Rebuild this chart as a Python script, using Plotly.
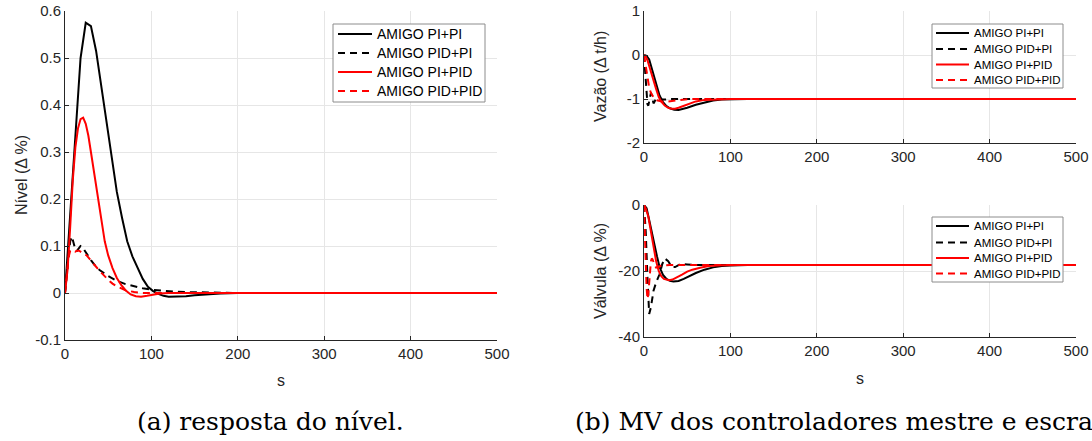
import plotly.graph_objects as go

W, H = 1092, 441

series_names = ["AMIGO PI+PI", "AMIGO PID+PI", "AMIGO PI+PID", "AMIGO PID+PID"]

# ---------------- (a) Nível ----------------
niv_t_pipi = [0, 6, 12, 18, 24, 30, 36, 42, 48, 54, 60, 66, 72, 78, 84, 90, 96, 102, 108, 114, 120, 130, 140, 150, 165, 180, 200, 500]
niv_v_pipi = [0, 0.17, 0.35, 0.50, 0.575, 0.568, 0.515, 0.44, 0.36, 0.28, 0.215, 0.16, 0.11, 0.078, 0.052, 0.03, 0.013, 0.004, -0.002, -0.006, -0.008, -0.008, -0.007, -0.005, -0.003, -0.001, 0, 0]

niv_t_pidpi = [0, 2, 4, 6, 8, 10, 12, 14, 16, 18, 20, 22, 25, 30, 35, 40, 50, 60, 70, 80, 90, 100, 110, 125, 140, 160, 180, 200, 500]
niv_v_pidpi = [0, 0.04, 0.08, 0.11, 0.12, 0.105, 0.092, 0.09, 0.095, 0.1, 0.098, 0.092, 0.083, 0.07, 0.058, 0.049, 0.036, 0.026, 0.019, 0.014, 0.01, 0.007, 0.005, 0.003, 0.002, 0.001, 0.0005, 0, 0]

niv_t_pipid = [0, 3, 6, 9, 12, 15, 18, 21, 24, 27, 30, 34, 38, 42, 46, 50, 55, 60, 65, 70, 76, 82, 88, 95, 102, 110, 120, 140, 500]
niv_v_pipid = [0, 0.05, 0.14, 0.24, 0.31, 0.35, 0.37, 0.373, 0.36, 0.335, 0.30, 0.25, 0.20, 0.15, 0.11, 0.08, 0.053, 0.032, 0.017, 0.006, -0.003, -0.007, -0.008, -0.006, -0.003, -0.001, 0, 0, 0]

niv_t_pidpid = [0, 2, 4, 6, 8, 10, 12, 14, 16, 18, 20, 25, 30, 35, 40, 45, 50, 55, 60, 70, 80, 90, 100, 500]
niv_v_pidpid = [0, 0.04, 0.075, 0.09, 0.092, 0.09, 0.088, 0.09, 0.09, 0.088, 0.085, 0.08, 0.07, 0.058, 0.047, 0.037, 0.028, 0.02, 0.014, 0.006, 0.002, 0, 0, 0]

# ---------------- (b) Vazão ----------------
vaz_t_pipi = [0, 3, 6, 9, 12, 15, 18, 22, 26, 30, 35, 40, 45, 50, 60, 70, 80, 90, 100, 120, 500]
vaz_v_pipi = [0, -0.02, -0.1, -0.3, -0.52, -0.74, -0.92, -1.07, -1.16, -1.21, -1.245, -1.25, -1.23, -1.2, -1.13, -1.075, -1.035, -1.012, -1.003, -1.0, -1.0]

vaz_t_pidpi = [0, 1, 2, 3, 4, 5, 6, 7, 8, 9, 10, 11, 12, 14, 16, 18, 20, 25, 30, 40, 500]
vaz_v_pidpi = [0, -0.25, -0.65, -0.95, -1.12, -1.15, -1.05, -0.92, -0.86, -0.93, -1.05, -1.1, -1.07, -0.99, -0.97, -0.99, -1.01, -1.01, -1.0, -1.0, -1.0]

vaz_t_pipid = [0, 2, 4, 6, 8, 10, 12, 14, 17, 20, 24, 28, 32, 36, 40, 45, 50, 55, 60, 70, 80, 90, 100, 500]
vaz_v_pipid = [0, -0.03, -0.12, -0.26, -0.4, -0.52, -0.65, -0.77, -0.95, -1.06, -1.15, -1.2, -1.22, -1.22, -1.2, -1.16, -1.12, -1.08, -1.055, -1.02, -1.008, -1.002, -1.0, -1.0]

vaz_t_pidpid = [0, 1, 2, 3, 4, 6, 8, 10, 12, 15, 18, 22, 26, 30, 35, 40, 50, 60, 500]
vaz_v_pidpid = [0, -0.12, -0.3, -0.45, -0.57, -0.74, -0.86, -0.94, -0.99, -1.03, -1.05, -1.06, -1.06, -1.05, -1.03, -1.02, -1.005, -1.0, -1.0]

# ---------------- (b) Válvula ----------------
val_t_pipi = [0, 3, 6, 9, 12, 15, 18, 22, 26, 30, 34, 40, 46, 52, 60, 70, 80, 90, 100, 120, 500]
val_v_pipi = [0, -1.0, -4.5, -8.5, -12, -15.5, -18.8, -21.2, -22.4, -23.0, -23.2, -23.0, -22.4, -21.6, -20.6, -19.6, -18.9, -18.5, -18.3, -18.2, -18.2]

val_t_pidpi = [0, 2, 4, 6, 8, 11, 14, 18, 21, 24, 28, 32, 36, 42, 50, 60, 500]
val_v_pidpi = [0, -8, -22, -33, -31, -26, -23.5, -21, -18, -16.2, -17, -18.8, -18.8, -17.9, -18.0, -18.2, -18.2]

val_t_pipid = [0, 2, 5, 8, 11, 14, 17, 20, 23, 26, 29, 33, 38, 44, 50, 56, 65, 75, 90, 110, 500]
val_v_pipid = [0, -1.0, -3.5, -8, -13, -17, -20, -21.6, -22.4, -22.7, -22.8, -22.6, -22.0, -21.1, -20.2, -19.6, -19.0, -18.5, -18.25, -18.2, -18.2]

val_t_pidpid = [0, 1, 2, 3, 4, 5, 6, 7, 8, 9, 10, 12, 14, 17, 20, 30, 500]
val_v_pidpid = [0, -6, -17, -25, -28.5, -27, -23, -19.5, -17, -16.2, -16.5, -18, -19, -18.8, -18.3, -18.2, -18.2]

x_ticks = [0, 100, 200, 300, 400, 500]
niv_ticks = [-0.1, 0, 0.1, 0.2, 0.3, 0.4, 0.5, 0.6]
niv_tick_text = ["-0.1", "0", "0.1", "0.2", "0.3", "0.4", "0.5", "0.6"]
vaz_ticks = [-2, -1, 0, 1]
vaz_tick_text = ["-2", "-1", "0", "1"]
val_ticks = [-40, -20, 0]
val_tick_text = ["-40", "-20", "0"]

colors = ["#000000", "#000000", "#ff0000", "#ff0000"]
dashes = ["solid", "7px,5px", "solid", "7px,5px"]

fig = go.Figure()

panels = [
    ("x", "y", [(niv_t_pipi, niv_v_pipi), (niv_t_pidpi, niv_v_pidpi), (niv_t_pipid, niv_v_pipid), (niv_t_pidpid, niv_v_pidpid)]),
    ("x2", "y2", [(vaz_t_pipi, vaz_v_pipi), (vaz_t_pidpi, vaz_v_pidpi), (vaz_t_pipid, vaz_v_pipid), (vaz_t_pidpid, vaz_v_pidpid)]),
    ("x3", "y3", [(val_t_pipi, val_v_pipi), (val_t_pidpi, val_v_pidpi), (val_t_pipid, val_v_pipid), (val_t_pidpid, val_v_pidpid)]),
]
for xa, ya, data in panels:
    for i, (t, v) in enumerate(data):
        fig.add_trace(go.Scatter(
            x=t, y=v, mode="lines", name=series_names[i],
            xaxis=xa, yaxis=ya, showlegend=False,
            line=dict(color=colors[i], width=2, dash=dashes[i]),
        ))


def px_x(p):
    return p / W


def px_y(p):
    return 1 - p / H


axis_common = dict(
    showline=True, linecolor="#262626", linewidth=1,
    ticks="inside", ticklen=4, tickcolor="#262626",
    showgrid=True, gridcolor="#e6e6e6", gridwidth=1,
    zeroline=False, mirror=False, automargin=False,
    tickfont=dict(family="Liberation Sans, Arial, sans-serif", size=15, color="#262626"),
)

fig.update_layout(
    width=W, height=H,
    margin=dict(l=0, r=0, t=0, b=0, pad=0, autoexpand=False),
    paper_bgcolor="white", plot_bgcolor="white",
    font=dict(family="Liberation Sans, Arial, sans-serif", color="#262626"),
    showlegend=False,
    xaxis=dict(domain=[px_x(65), px_x(497)], range=[0, 500], tickvals=x_ticks, anchor="y", **axis_common),
    yaxis=dict(domain=[px_y(340), px_y(11)], range=[-0.1, 0.6], tickvals=niv_ticks, ticktext=niv_tick_text, anchor="x", **axis_common),
    xaxis2=dict(domain=[px_x(644), px_x(1076)], range=[0, 500], tickvals=x_ticks, anchor="y2", **axis_common),
    yaxis2=dict(domain=[px_y(143), px_y(11)], range=[-2, 1], tickvals=vaz_ticks, ticktext=vaz_tick_text, anchor="x2", **axis_common),
    xaxis3=dict(domain=[px_x(644), px_x(1076)], range=[0, 500], tickvals=x_ticks, anchor="y3", **axis_common),
    yaxis3=dict(domain=[px_y(337), px_y(205)], range=[-40, 0], tickvals=val_ticks, ticktext=val_tick_text, anchor="x3", **axis_common),
)

# ---- legend boxes (layout elements, in pixel positions) ----
legend_specs = [
    dict(box=(333, 485, 24, 102), rows=(34, 53, 72, 91), sx=(338, 372), tx=375, fs=14),
    dict(box=(932, 1063, 24, 88), rows=(33, 49, 64.5, 80), sx=(936, 969), tx=972, fs=11.5),
    dict(box=(932, 1063, 217, 282), rows=(226, 242.5, 258, 273.5), sx=(936, 969), tx=972, fs=11.5),
]
for spec in legend_specs:
    l, r, t, b = spec["box"]
    fig.add_shape(type="rect", xref="paper", yref="paper",
                  x0=px_x(l), x1=px_x(r), y0=px_y(b), y1=px_y(t),
                  line=dict(color="#8c8c8c", width=1), fillcolor="white", layer="above")
    for i, ry in enumerate(spec["rows"]):
        fig.add_shape(type="line", xref="paper", yref="paper",
                      x0=px_x(spec["sx"][0]), x1=px_x(spec["sx"][1]), y0=px_y(ry), y1=px_y(ry),
                      line=dict(color=colors[i], width=2, dash=dashes[i]), layer="above")
        fig.add_annotation(text=series_names[i], xref="paper", yref="paper",
                           x=px_x(spec["tx"]), y=px_y(ry), xanchor="left", yanchor="middle",
                           showarrow=False,
                           font=dict(family="Liberation Sans, Arial, sans-serif", size=spec["fs"], color="#000000"))

title_font = dict(family="Liberation Sans, Arial, sans-serif", size=16, color="#262626")
annos = [
    dict(text="Nível (Δ %)", x=px_x(22), y=px_y(175), textangle=-90),
    dict(text="Vazão (Δ t/h)", x=px_x(600), y=px_y(77), textangle=-90),
    dict(text="Válvula (Δ %)", x=px_x(600), y=px_y(271), textangle=-90),
    dict(text="s", x=px_x(281), y=px_y(380), textangle=0),
    dict(text="s", x=px_x(860), y=px_y(378), textangle=0),
]
for a in annos:
    fig.add_annotation(xref="paper", yref="paper", showarrow=False,
                       xanchor="center", yanchor="middle", font=title_font, **a)

cap_font = dict(family="DejaVu Serif, serif", size=25, color="#000000")
fig.add_annotation(text="(a) resposta do nível.", xref="paper", yref="paper",
                   x=px_x(270), y=px_y(421), xanchor="center", yanchor="middle",
                   showarrow=False, font=cap_font)
fig.add_annotation(text="(b) MV dos controladores mestre e escrava.", xref="paper", yref="paper",
                   x=px_x(573), y=px_y(421), xanchor="left", yanchor="middle",
                   showarrow=False, font=cap_font)

fig.write_html("out.html")
